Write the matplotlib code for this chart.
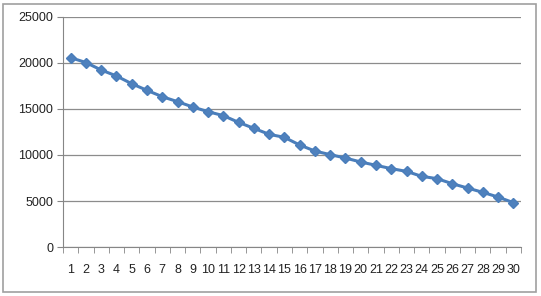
import numpy as np
import matplotlib
matplotlib.use('Agg')
from matplotlib import pyplot as plt
from matplotlib.patches import Rectangle

# x categories and values
days = list(range(1, 31))
values = [20580, 20050, 19240, 18590, 17750, 17030, 16340, 15800, 15220, 14710,
          14280, 13550, 12900, 12250, 11920, 11090, 10430, 10040, 9670, 9240,
          8880, 8520, 8220, 7680, 7430, 6880, 6410, 5940, 5430, 4820]
yticks = [0, 5000, 10000, 15000, 20000, 25000]

plt.rcParams['font.family'] = ['Liberation Sans', 'DejaVu Sans']

fig = plt.figure(figsize=(5.41, 2.96), dpi=100)
ax = fig.add_axes([63/541, 1 - 247/296, 458/541, 230/296])

ax.plot(days, values, color='#4A7EBB', lw=2.2, marker='D', ms=5.5,
        markerfacecolor='#4F81BD', markeredgecolor='#4A7EBB', zorder=3)

ax.set_xlim(0.5, 30.5)
ax.set_ylim(0, 25000)
ax.set_yticks(yticks)
ax.set_yticklabels([str(v) for v in yticks])
ax.set_xticks(days)
ax.set_xticklabels([str(d) for d in days])
ax.set_xticks(np.arange(0.5, 31, 1), minor=True)
ax.tick_params(axis='x', which='major', length=0, pad=12, labelsize=9, colors='#222222')
ax.tick_params(axis='x', which='minor', length=4, color='#868686', direction='out')
ax.tick_params(axis='y', length=4, color='#868686', labelsize=9, colors='#222222', pad=3)

ax.grid(axis='y', color='#8c8c8c', lw=0.9)
ax.set_axisbelow(True)
for s in ['top', 'right']:
    ax.spines[s].set_visible(False)
ax.spines['left'].set_color('#868686')
ax.spines['bottom'].set_color('#868686')

# chart border
fig.patches.append(Rectangle((3/541, 4/296), 533/541, 288/296, transform=fig.transFigure,
                             fill=False, edgecolor='#a0a0a0', lw=1.2))

fig.savefig('out.png', dpi=100)
